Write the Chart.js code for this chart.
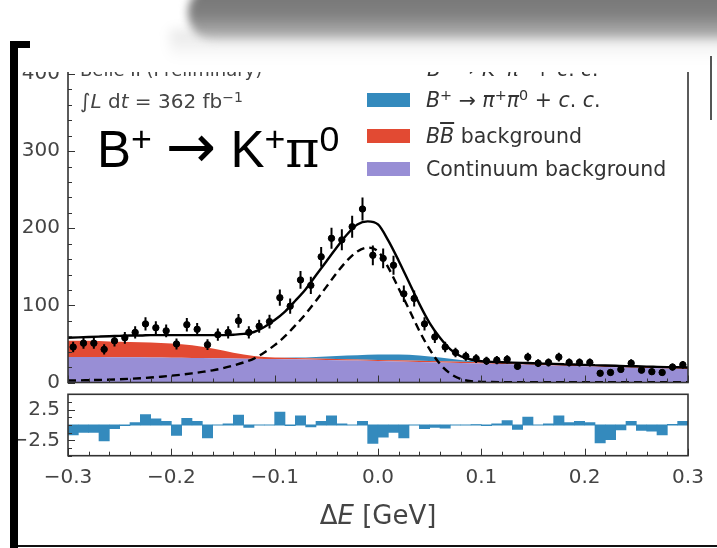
<!DOCTYPE html>
<html>
<head>
<meta charset="utf-8">
<script src="https://cdn.jsdelivr.net/npm/chart.js@4.4.1/dist/chart.umd.min.js"></script>
<style>
  html, body { margin: 0; padding: 0; }
  body { width: 717px; height: 548px; position: relative; overflow: hidden; background: #fff;
         font-family: "DejaVu Sans", sans-serif; color: #333; }
  .abs { position: absolute; white-space: nowrap; line-height: 1; }
  .sup { font-size: 0.7em; position: relative; top: -0.45em; line-height: 0; }
  #smudge { position: absolute; left: 188px; top: -14px; width: 580px; height: 54px; border-radius: 26px;
            background: linear-gradient(180deg, #727272 0%, #828282 55%, #aaaaaa 82%, #e2e2e2 100%);
            filter: blur(4px); }
  #haze { position: absolute; left: 170px; top: 30px; width: 560px; height: 30px;
          background: linear-gradient(180deg, rgba(0,0,0,0.10), rgba(0,0,0,0)); filter: blur(6px); }
  #bracket { position: absolute; left: 10px; top: 41px; width: 12px; height: 520px;
             border-left: 8px solid #000; border-top: 7px solid #000; z-index: 5; }
  #clip { position: absolute; left: 0; top: 72px; width: 717px; height: 338px; overflow: hidden; }
  #mainWrap { position: absolute; left: 0; top: -72px; }
  #pullWrap { position: absolute; left: 0; top: 374px; }
  .swatch { position: absolute; left: 367px; width: 43px; height: 14.5px; }
</style>
</head>
<body>
<div id="smudge"></div>
<div id="haze"></div>

<div id="pullWrap"><canvas id="pullChart" width="717" height="174"></canvas></div>
<div id="clip">
  <div id="mainWrap"><canvas id="mainChart" width="717" height="410"></canvas></div>
  <div class="abs" style="left:80px; top:-10.7px; font-size:18px; color:#444;">Belle II (Preliminary)</div>
  <div class="abs" style="left:427px; top:-13px; font-size:20px; color:#333;"><i>B</i><span class="sup">+</span> → <i>K</i><span class="sup">+</span><i>π</i><span class="sup">0</span> + <i>c</i>. <i>c</i>.</div>
</div>

<div class="abs" style="left:80px; top:91.4px; font-size:20px; color:#444;">∫<i>L</i> d<i>t</i> = 362 fb<span class="sup">−1</span></div>
<div class="abs" style="left:97px; top:124px; font-family:'Liberation Sans', Arial, sans-serif; font-size:51px; color:#000;">B<span class="sup">+</span> <span style="font-family:'DejaVu Sans'; font-size:60px; line-height:0;">→</span> K<span class="sup">+</span><span style="font-family:'DejaVu Serif'; font-size:52px; line-height:0;">π</span><span class="sup">0</span></div>

<div class="swatch" style="top:92.5px; background:#348ABD;"></div>
<div class="swatch" style="top:128.5px; background:#E24A33;"></div>
<div class="swatch" style="top:161.5px; background:#988ED5;"></div>
<div class="abs" style="left:426px; top:89.7px; font-size:20.5px;"><i>B</i><span class="sup">+</span> → <i>π</i><span class="sup">+</span><i>π</i><span class="sup">0</span> + <i>c</i>. <i>c</i>.</div>
<div class="abs" style="left:426px; top:125.7px; font-size:20.5px;"><i>B</i><i style="text-decoration:overline;">B</i> background</div>
<div class="abs" style="left:426px; top:158.7px; font-size:20.5px;">Continuum background</div>

<div class="abs" style="left:378px; top:502px; font-size:26px; color:#444; transform:translateX(-50%);">Δ<i>E</i> [GeV]</div>

<div id="bracket"></div>
<div style="position:absolute; left:710px; top:56px; width:2px; height:64px; background:#555;"></div>
<div style="position:absolute; left:18px; top:545px; width:699px; height:2px; background:#111;"></div>

<script>
// bin centres of the Delta E histogram (GeV)
const binCenters = [-0.295,-0.285,-0.275,-0.265,-0.255,-0.245,-0.235,-0.225,-0.215,-0.205,
                    -0.195,-0.185,-0.175,-0.165,-0.155,-0.145,-0.135,-0.125,-0.115,-0.105,
                    -0.095,-0.085,-0.075,-0.065,-0.055,-0.045,-0.035,-0.025,-0.015,-0.005,
                     0.005, 0.015, 0.025, 0.035, 0.045, 0.055, 0.065, 0.075, 0.085, 0.095,
                     0.105, 0.115, 0.125, 0.135, 0.145, 0.155, 0.165, 0.175, 0.185, 0.195,
                     0.205, 0.215, 0.225, 0.235, 0.245, 0.255, 0.265, 0.275, 0.285, 0.295];
// events per bin
const dataCounts = [46,51,51,43,54,58,65,76,71,67, 50,75,69,49,62,65,80,65,73,79,
                    110,99,133,126,163,187,185,202,225,165, 161,152,115,109,76,59,46,39,34,31,
                    28,29,30,21,33,25,26,33,26,26, 26,12,13,17,25,16,14,13,20,23];
const dataErr = [6.8,7.1,7.1,6.6,7.3,7.6,8.1,8.7,8.4,8.2, 7.1,8.7,8.3,7.0,7.9,8.1,8.9,8.1,8.5,8.9,
                 10.5,9.9,11.5,11.2,12.8,13.7,13.6,14.2,15.0,12.8, 12.7,12.3,10.7,10.4,8.7,7.7,6.8,6.2,5.8,5.6,
                 5.3,5.4,5.5,4.6,5.7,5.0,5.1,5.7,5.1,5.1, 5.1,3.5,3.6,4.1,5.0,4.0,3.7,3.6,4.5,4.8];
// pulls per bin (lower panel)
const pulls = [-1.6,-1.2,-1.2,-2.6,-0.6,-0.1,0.4,1.7,1.0,0.6, -1.7,1.1,0.6,-2.1,0,0.2,1.6,-0.4,0,0,
               2.1,-0.1,1.5,-0.3,0.6,1.5,0.2,0,0.6,-3.0, -2.0,-1.2,-2.1,0,-0.6,-0.4,-0.5,0,0,0.05,
               -0.1,0.2,0.7,-0.7,1.3,0,0.2,1.5,0.4,0.6, 0.4,-2.9,-2.4,-0.8,0.6,-0.9,-1.0,-1.6,0.1,0.6];

// fit curves
const fitX = [-0.30,-0.29,-0.28,-0.27,-0.26,-0.25,-0.24,-0.23,-0.22,-0.21,
              -0.20,-0.19,-0.18,-0.17,-0.16,-0.15,-0.14,-0.13,-0.12,-0.11,
              -0.10,-0.09,-0.08,-0.07,-0.06,-0.05,-0.04,-0.03,-0.02,-0.01,
               0.00, 0.01, 0.02, 0.03, 0.04, 0.05, 0.06, 0.07, 0.08, 0.09,
               0.10, 0.11, 0.12, 0.13, 0.14, 0.15, 0.16, 0.17, 0.18, 0.19,
               0.20, 0.21, 0.22, 0.23, 0.24, 0.25, 0.26, 0.27, 0.28, 0.29, 0.30];
const fitTotal = [58,58.5,59,59.5,60,60.5,61,61,61.5,61.5, 61.5,61.5,61.5,61.5,61.5,61.5,62,63,65.5,72,
                  81,92,106,121,139,157,175,192,205,209, 205,184,158,130,102,77,58,43,34,29.8,
                  27.6,26.8,26.2,25.8,25.4,25,24.5,24.1,23.7,23.3, 22.9,22.5,22.1,21.7,21.3,21,20.6,20.3,20,19.7, 19.4];
const fitSignal = [2.5,2.7,3,3.3,3.7,4.2,4.8,5.5,6.4,7.5, 8.8,10.2,11.8,13.7,15.8,18.5,22,26,31,39,
                   48.5,60,74,89,106,124,142,158,170,175, 170,149,122,95,67,43,24,11.5,4.5,1.6,
                   0.8,0.6,0.5,0.5,0.5,0.5,0.5,0.5,0.5,0.5, 0.5,0.5,0.5,0.5,0.5,0.5,0.5,0.5,0.5,0.5, 0.5];

// background components (stacked)
const bkgX = [-0.30,-0.28,-0.26,-0.24,-0.22,-0.20,-0.18,-0.16,-0.14,-0.12,-0.10,-0.08,-0.06,-0.04,-0.02,
               0.00, 0.02, 0.04, 0.06, 0.08, 0.10, 0.12, 0.14, 0.16, 0.18, 0.20, 0.22, 0.24, 0.26, 0.28, 0.30];
const contBkg = [33,33,32.8,32.6,32.4,32.1,31.8,31.5,31.2,30.8,30.4,30,29.5,29,28.4,
                 27.8,27.2,26.6,26,25.3,24.6,23.9,23.2,22.5,21.8,21,20.2,19.6,18.9,18.2,17.5];
const bbBkg = [21,21,20.5,20,19.5,18.5,16.5,12.5,7.5,3.5,2,1.7,1.5,1.5,1.5,
               1.5,1.5,1.5,1.5,1.5,1.5,1.5,1.5,1.5,1.5,1.5,1.5,1.5,1.5,1.5,1.5];
const pipiBkg = [0,0,0,0,0,0,0,0,0,0,0,0.6,2,4,5.5,
                 7,7.5,7,5,2.5,1,0.3,0,0,0,0,0,0,0,0,0];

const xTicks = [-0.3,-0.2,-0.1,0,0.1,0.2,0.3];
const yMainTicks = [0,100,200,300,400];
const yPullTicks = [-2.5,2.5];

const minus = v => String(v).replace('-', '\u2212');
const pts = (xs, ys) => xs.map((x, i) => ({ x, y: ys[i] }));

Chart.defaults.font.family = '"DejaVu Sans", sans-serif';
Chart.defaults.color = '#444';

// frame on all four sides plus inward ticks on left and bottom
const inwardTicks = {
  id: 'inwardTicks',
  afterDraw(chart, args, o) {
    const { ctx, chartArea: a, scales: { x, y } } = chart;
    ctx.save();
    ctx.strokeStyle = '#333';
    ctx.lineWidth = 1;
    ctx.beginPath();
    const nx = Math.round((x.max - x.min) / o.xStep);
    for (let i = 0; i <= nx; i++) {
      const v = x.min + i * o.xStep;
      const px = Math.round(x.getPixelForValue(v)) + 0.5;
      const major = i % o.xMajorEvery === 0;
      ctx.moveTo(px, a.bottom);
      ctx.lineTo(px, a.bottom - (major ? 7 : 4));
    }
    const ny = Math.round((y.max - y.min) / o.yStep);
    for (let i = 0; i <= ny; i++) {
      const v = y.min + i * o.yStep;
      const py = Math.round(y.getPixelForValue(v)) + 0.5;
      const major = o.yMajor.some(m => Math.abs(m - v) < 1e-6);
      ctx.moveTo(a.left, py);
      ctx.lineTo(a.left + (major ? 7 : 4), py);
    }
    ctx.stroke();
    ctx.lineWidth = 1.6;
    ctx.strokeRect(a.left, a.top, a.right - a.left, a.bottom - a.top);
    ctx.restore();
  }
};

// vertical error bars on the data points
const errorBars = {
  id: 'errorBars',
  afterDatasetsDraw(chart) {
    const { ctx, scales: { x, y } } = chart;
    ctx.save();
    ctx.strokeStyle = '#000';
    ctx.lineWidth = 2;
    ctx.beginPath();
    binCenters.forEach((c, i) => {
      const px = x.getPixelForValue(c);
      ctx.moveTo(px, y.getPixelForValue(dataCounts[i] - dataErr[i]));
      ctx.lineTo(px, y.getPixelForValue(dataCounts[i] + dataErr[i]));
    });
    ctx.stroke();
    ctx.restore();
  }
};

const mainChart = new Chart(document.getElementById('mainChart'), {
  type: 'line',
  data: {
    datasets: [
      { label: 'Data', data: pts(binCenters, dataCounts), showLine: false, stack: 'data',
        pointRadius: 3.2, pointBackgroundColor: '#000', pointBorderColor: '#000', borderColor: '#000' },
      { label: 'Total fit', data: pts(fitX, fitTotal), stack: 'fit', borderColor: '#000', borderWidth: 2.4,
        pointRadius: 0, cubicInterpolationMode: 'monotone', fill: false },
      { label: 'Signal', data: pts(fitX, fitSignal), stack: 'sig', borderColor: '#000', borderWidth: 2.4,
        borderDash: [8, 5], pointRadius: 0, cubicInterpolationMode: 'monotone', fill: false },
      { label: 'Continuum background', data: pts(bkgX, contBkg), stack: 'bkg', borderColor: 'rgba(0,0,0,0)',
        borderWidth: 0, backgroundColor: '#988ED5', fill: 'origin', pointRadius: 0, cubicInterpolationMode: 'monotone' },
      { label: 'BB background', data: pts(bkgX, bbBkg), stack: 'bkg', borderColor: 'rgba(0,0,0,0)',
        borderWidth: 0, backgroundColor: '#E24A33', fill: '-1', pointRadius: 0, cubicInterpolationMode: 'monotone' },
      { label: 'B+ -> pi+ pi0', data: pts(bkgX, pipiBkg), stack: 'bkg', borderColor: 'rgba(0,0,0,0)',
        borderWidth: 0, backgroundColor: '#348ABD', fill: '-1', pointRadius: 0, cubicInterpolationMode: 'monotone' }
    ]
  },
  options: {
    responsive: false,
    animation: false,
    layout: { padding: { top: 35.5, right: 29, bottom: 27.5, left: 0 } },
    plugins: {
      legend: { display: false },
      tooltip: { enabled: false },
      inwardTicks: { xStep: 0.02, xMajorEvery: 5, yStep: 20, yMajor: yMainTicks }
    },
    scales: {
      x: { type: 'linear', min: -0.3, max: 0.3, display: false },
      y: {
        min: 0, max: 450, stacked: true,
        grid: { display: false, drawTicks: false }, border: { display: false },
        afterBuildTicks: s => { s.ticks = yMainTicks.map(v => ({ value: v })); },
        afterFit: s => { s.width = 68; },
        ticks: { padding: 8, color: '#444', font: { size: 20 } }
      }
    }
  },
  plugins: [inwardTicks, errorBars]
});

const pullChart = new Chart(document.getElementById('pullChart'), {
  type: 'bar',
  data: {
    datasets: [
      { type: 'line', label: 'zero', data: [{ x: -0.3, y: 0 }, { x: 0.3, y: 0 }],
        borderColor: 'rgba(52,138,189,0.45)', borderWidth: 1.5, pointRadius: 0 },
      { type: 'bar', label: 'Pull', data: pts(binCenters, pulls), backgroundColor: '#348ABD',
        borderWidth: 0, barPercentage: 1, categoryPercentage: 1, grouped: false }
    ]
  },
  options: {
    responsive: false,
    animation: false,
    layout: { padding: { top: 20.3, right: 29, bottom: 0, left: 0 } },
    plugins: {
      legend: { display: false },
      tooltip: { enabled: false },
      inwardTicks: { xStep: 0.02, xMajorEvery: 5, yStep: 1.25, yMajor: yPullTicks }
    },
    scales: {
      x: {
        type: 'linear', min: -0.3, max: 0.3, offset: false,
        grid: { display: false, drawTicks: false }, border: { display: false },
        afterBuildTicks: s => { s.ticks = xTicks.map(v => ({ value: v })); },
        afterFit: s => { s.height = 92.3; },
        ticks: { padding: 10, color: '#444', font: { size: 20 }, autoSkip: false, maxRotation: 0,
                 callback: v => minus(Number(v).toFixed(1)) }
      },
      y: {
        min: -5, max: 5,
        grid: { display: false, drawTicks: false }, border: { display: false },
        afterBuildTicks: s => { s.ticks = yPullTicks.map(v => ({ value: v })); },
        afterFit: s => { s.width = 68; },
        ticks: { padding: 8, color: '#444', font: { size: 20 }, callback: v => minus(v) }
      }
    }
  },
  plugins: [inwardTicks]
});
</script>
</body>
</html>
